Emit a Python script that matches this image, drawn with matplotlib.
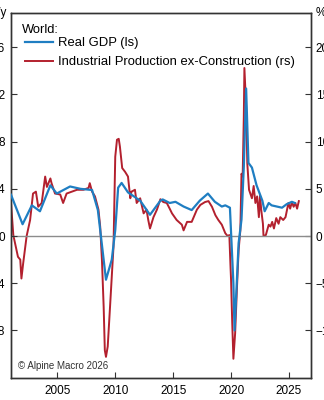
import matplotlib
matplotlib.use("Agg")
import matplotlib.pyplot as plt

plt.rcParams['font.family'] = ['Liberation Sans', 'DejaVu Sans']

# Real GDP, %y/y (left scale)
gdp_year = [2001.0, 2002.0, 2002.8, 2003.5, 2004.4, 2004.95, 2006.1, 2007.0, 2008.0,
            2008.5, 2009.2, 2009.7, 2010.0, 2010.25, 2010.55, 2011.1, 2012.15, 2013.0,
            2013.9, 2014.1, 2014.7, 2015.2, 2015.9, 2016.6, 2017.3, 2018.0, 2018.6,
            2019.2, 2019.5, 2019.9, 2020.2, 2020.3, 2020.65, 2020.9, 2021.1, 2021.3,
            2021.5, 2021.8, 2022.2, 2022.7, 2022.9, 2023.25, 2023.5, 2023.95, 2024.4,
            2024.8, 2025.25, 2025.5]
gdp = [3.5, 1.0, 2.6, 2.1, 4.3, 3.6, 4.2, 4.0, 3.9,
       2.2, -3.7, -2.0, 0.5, 4.1, 4.5, 3.7, 3.0, 1.8,
       3.0, 3.1, 2.8, 2.9, 2.5, 2.2, 3.0, 3.6, 2.9,
       2.5, 2.6, 2.4, -4.0, -8.0, -0.6, 1.4, 5.9, 12.5,
       6.2, 5.8, 4.3, 3.0, 2.1, 2.8, 2.6, 2.5, 2.4,
       2.7, 2.9, 2.8]

# Industrial production ex-construction, % (right scale)
ip_year = [2001.0, 2001.2, 2001.6, 2001.8, 2001.9, 2002.05, 2002.35, 2002.65, 2002.9,
           2003.15, 2003.35, 2003.65, 2003.95, 2004.1, 2004.4, 2004.5, 2004.8, 2005.25,
           2005.5, 2005.8, 2006.25, 2006.7, 2007.25, 2007.7, 2007.8, 2008.0, 2008.25,
           2008.55, 2008.7, 2008.85, 2009.0, 2009.1, 2009.2, 2009.35, 2009.55, 2009.85,
           2010.0, 2010.15, 2010.3, 2010.4, 2010.6, 2010.85, 2011.1, 2011.3, 2011.4,
           2011.7, 2011.85, 2012.15, 2012.45, 2012.7, 2012.85, 2013.0, 2013.3, 2013.6,
           2013.9, 2014.15, 2014.45, 2014.7, 2014.9, 2015.3, 2015.75, 2015.9, 2016.2,
           2016.6, 2017.05, 2017.35, 2017.75, 2018.05, 2018.35, 2018.65, 2018.9, 2019.2,
           2019.5, 2019.7, 2019.85, 2019.95, 2020.0, 2020.1, 2020.2, 2020.35, 2020.5,
           2020.65, 2020.8, 2020.9, 2021.0, 2021.1, 2021.15, 2021.3, 2021.4, 2021.55,
           2021.8, 2021.95, 2022.1, 2022.25, 2022.4, 2022.5, 2022.6, 2022.75, 2022.8,
           2023.0, 2023.25, 2023.4, 2023.55, 2023.7, 2023.9, 2024.1, 2024.25, 2024.5,
           2024.7, 2024.8, 2024.95, 2025.1, 2025.25, 2025.4, 2025.55, 2025.7, 2025.85]
ip = [3.5, 0.1, -2.2, -2.5, -4.5, -2.9, 0.0, 1.7, 4.5,
      4.7, 3.1, 3.5, 6.3, 5.2, 6.1, 5.6, 4.5, 4.4,
      3.5, 4.5, 4.7, 4.9, 4.9, 5.1, 5.6, 4.7, 4.2,
      2.8, 1.0, -2.5, -7.5, -12.1, -12.8, -11.7, -7.5, -1.1,
      8.4, 10.2, 10.3, 9.5, 7.2, 6.8, 6.3, 4.0, 4.7,
      4.9, 3.5, 4.0, 2.4, 2.8, 1.7, 0.8, 2.0, 2.8,
      3.9, 3.6, 3.5, 2.9, 2.4, 1.7, 1.2, 0.6, 1.5,
      1.5, 2.8, 3.3, 3.6, 3.7, 3.1, 2.2, 1.7, 1.2,
      0.3, 0.0, 0.1, -3.2, -4.7, -9.2, -13.0, -10.3, -5.7,
      -1.5, 0.6, 6.6, 6.3, 12.6, 17.8, 13.7, 7.7, 4.9,
      4.0, 5.3, 3.5, 4.2, 2.0, 4.3, 2.8, 1.3, 0.0,
      0.1, 1.2, 1.0, 1.5, 0.8, 1.9, 1.3, 2.0, 1.7,
      2.0, 2.6, 3.5, 2.9, 3.6, 3.1, 3.5, 2.9, 3.7]

left_ticks = [-8, -4, 0, 4, 8, 12, 16]
right_ticks = [-10, -5, 0, 5, 10, 15, 20]
year_ticks = [2005, 2010, 2015, 2020, 2025]

blue = '#1f7ec2'
red = '#b3202e'
frame = '#333333'

fig = plt.figure(figsize=(3.24, 4.0), dpi=100)
ax = fig.add_axes([11 / 324, 22 / 400, 300 / 324, 365 / 400])
ax2 = ax.twinx()

ax.axhline(0, color='#8c8c8c', lw=1.0, zorder=1)
l1, = ax.plot(gdp_year, gdp, color=blue, lw=1.6, label='Real GDP (ls)', zorder=3)
l2, = ax2.plot(ip_year, ip, color=red, lw=1.4, label='Industrial Production ex-Construction (rs)', zorder=2)
ax.set_zorder(ax2.get_zorder() + 1)
ax.patch.set_visible(False)

ax.set_xlim(2001.0, 2026.9)
ax.set_ylim(-12.03, 18.9)
ax2.set_ylim(-12.03 * 1.25, 18.9 * 1.25)
ax.set_xticks(year_ticks)
ax.set_yticks(left_ticks)
ax2.set_yticks(right_ticks)

for a in (ax, ax2):
    for s in a.spines.values():
        s.set_color(frame)
        s.set_linewidth(1.0)
ax.tick_params(axis='x', direction='in', length=4, width=0.8, color=frame, pad=5, labelsize=8.5)
ax.tick_params(axis='y', direction='in', length=4, width=0.8, color=frame, pad=4.5, labelsize=8.5)
ax2.tick_params(axis='y', direction='in', length=4, width=0.8, color=frame, pad=3.5, labelsize=8.5)

ax.text(-0.013, 1.0, '%y/y', transform=ax.transAxes, ha='right', va='center', fontsize=8.5)
ax.text(1.017, 1.0, '%', transform=ax.transAxes, ha='left', va='center', fontsize=8.5)
ax.text(0.023, 0.033, '\u00a9 Alpine Macro 2026', transform=ax.transAxes, ha='left',
        va='center', fontsize=7, color='#333333')

ax.text(0.037, 0.953, 'World:', transform=ax.transAxes, ha='left', va='center', fontsize=9.3)
leg = ax.legend(handles=[l1, l2], loc='upper left',
                bbox_to_anchor=(0.047, 0.934), frameon=False, fontsize=9.4,
                borderpad=0, handlelength=2.1, handletextpad=0.4, labelspacing=0.52,
                borderaxespad=0)

fig.savefig('out.png', dpi=100)
